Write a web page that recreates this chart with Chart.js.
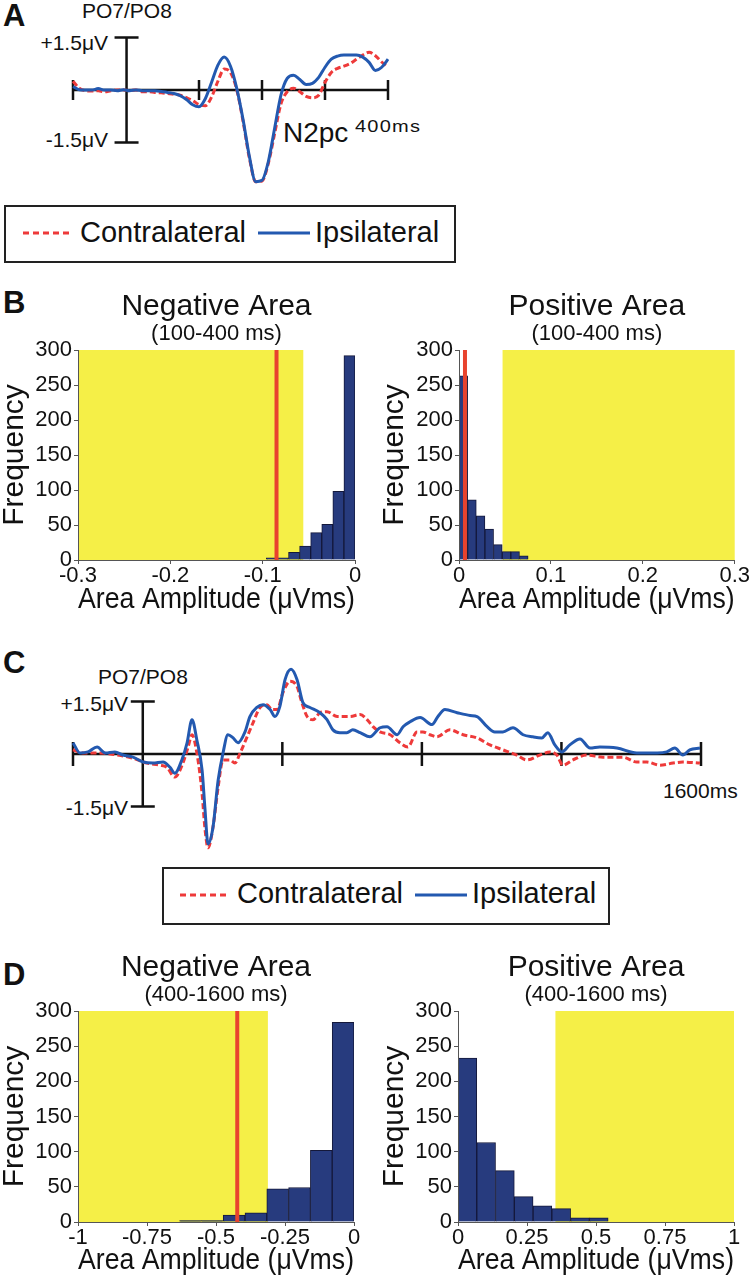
<!DOCTYPE html>
<html>
<head>
<meta charset="utf-8">
<script src="https://cdn.jsdelivr.net/npm/chart.js@4.4.0/dist/chart.umd.min.js"></script>
<style>
html, body { margin: 0; padding: 0; background: #fff; }
body { width: 751px; height: 1280px; position: relative; overflow: hidden;
       font-family: "Liberation Sans", Arial, sans-serif; color: #111; }
canvas, svg { position: absolute; }
.t { position: absolute; line-height: 1; white-space: nowrap; }
.letter { font-weight: bold; font-size: 31px; }
.lbl { font-size: 21px; }
.leg { font-size: 29px; }
.box { position: absolute; border: 2px solid #222; box-sizing: border-box; }
</style>
</head>
<body>

<div class="t letter" style="left:3px;top:0px">A</div>
<div class="t letter" style="left:3px;top:287px">B</div>
<div class="t letter" style="left:3px;top:647px">C</div>
<div class="t letter" style="left:3px;top:959px">D</div>

<!-- panel A annotations -->
<div class="t lbl" style="left:82px;top:0px">PO7/PO8</div>
<div class="t lbl" style="left:8px;top:32px;width:100px;text-align:right">+1.5μV</div>
<div class="t lbl" style="left:8px;top:129px;width:100px;text-align:right">-1.5μV</div>
<div class="t" style="left:283px;top:119px;font-size:28px">N2pc</div>
<div class="t" style="left:355px;top:119px;font-size:16px;letter-spacing:1px;transform:scaleX(1.25);transform-origin:left">400ms</div>

<!-- panel C annotations -->
<div class="t lbl" style="left:98px;top:666px">PO7/PO8</div>
<div class="t lbl" style="left:28px;top:693px;width:100px;text-align:right">+1.5μV</div>
<div class="t lbl" style="left:28px;top:797px;width:100px;text-align:right">-1.5μV</div>
<div class="t lbl" style="left:663px;top:780px">1600ms</div>

<canvas id="erpA" width="430" height="200" style="left:0;top:0"></canvas>
<canvas id="erpC" width="751" height="245" style="left:0;top:620px"></canvas>

<canvas id="bNeg" width="380" height="330" style="left:0;top:290px"></canvas>
<canvas id="bPos" width="371" height="330" style="left:380px;top:290px"></canvas>
<canvas id="dNeg" width="380" height="331" style="left:0;top:951px"></canvas>
<canvas id="dPos" width="371" height="331" style="left:380px;top:951px"></canvas>

<!-- legends -->
<div class="box" style="left:4px;top:205px;width:452px;height:58px"></div>
<svg style="left:23px;top:230px" width="50" height="6"><line x1="0" y1="3" x2="50" y2="3" stroke="#ee3a3a" stroke-width="3" stroke-dasharray="6 4"/></svg>
<div class="t leg" style="left:80px;top:218px">Contralateral</div>
<svg style="left:258px;top:230px" width="52" height="6"><line x1="0" y1="3" x2="52" y2="3" stroke="#2359b0" stroke-width="3"/></svg>
<div class="t leg" style="left:315px;top:218px">Ipsilateral</div>

<div class="box" style="left:162px;top:867px;width:448px;height:58px"></div>
<svg style="left:180px;top:892px" width="50" height="6"><line x1="0" y1="3" x2="50" y2="3" stroke="#ee3a3a" stroke-width="3" stroke-dasharray="6 4"/></svg>
<div class="t leg" style="left:237px;top:879px">Contralateral</div>
<svg style="left:415px;top:892px" width="52" height="6"><line x1="0" y1="3" x2="52" y2="3" stroke="#2359b0" stroke-width="3"/></svg>
<div class="t leg" style="left:472px;top:879px">Ipsilateral</div>

<script>
// ---- panel A: grand average ERP, -100..400 ms (uV)
const aTimes = [-100, -90, -80, -70, -60, -50, -40, -30, -20, -10, 0, 10, 20, 30, 40, 50, 60, 70, 80, 90,
  100, 110, 120, 130, 140, 150, 160, 170, 180, 190, 200, 210, 220, 230, 240, 250, 260, 270, 280, 290,
  300, 310, 320, 330, 340, 350, 360, 370, 380, 390, 400];
const aContra = [0.25, 0.05, -0.02, -0.03, -0.02, -0.05, -0.02, 0.00, 0.00, -0.02, 0.00,
  -0.05, -0.05, -0.07, -0.08, -0.10, -0.12, -0.15, -0.22, -0.30, -0.42,
  -0.45, -0.20, 0.25, 0.60, 0.50, 0.00, -0.90, -1.95, -2.62, -2.60,
  -2.10, -1.25, -0.40, -0.05, 0.05, -0.05, -0.18, -0.22, -0.15, 0.22,
  0.50, 0.62, 0.68, 0.76, 0.88, 1.00, 1.08, 0.98, 0.80, 0.65];
const aIpsi = [0.10, 0.01, 0.00, 0.00, 0.04, 0.00, 0.00, -0.02, 0.01, -0.02, 0.00,
  -0.02, -0.02, -0.02, -0.04, -0.07, -0.10, -0.16, -0.27, -0.42, -0.48,
  -0.25, 0.22, 0.71, 0.94, 0.68, 0.04, -0.85, -1.90, -2.62, -2.58,
  -2.05, -1.10, -0.15, 0.33, 0.42, 0.30, 0.16, 0.19, 0.36, 0.65,
  0.88, 0.97, 1.00, 1.00, 1.00, 0.94, 0.79, 0.56, 0.65, 0.88];
const aTicks = [-100, 100, 200, 300, 400];

// ---- panel C: grand average ERP, -200..1600 ms (uV)
const cIpsiTimes = [-200, -180, -157, -131, -108, -80, -57, -28, 1, 29, 58, 78, 92, 112, 127, 141, 155, 170, 178, 187,
  201, 216, 230, 244, 259, 273, 293, 307, 327, 345, 365, 379, 393, 408, 425, 442, 459, 479, 508, 528,
  545, 565, 585, 602, 623, 651, 680, 700, 729, 746, 766, 795, 829, 846, 866, 901, 938, 958, 987, 1009,
  1032, 1061, 1090, 1118, 1144, 1161, 1181, 1201, 1224, 1253, 1282, 1310, 1359, 1416, 1474, 1502, 1525, 1548, 1568, 1597];
const cIpsi = [0.32, 0.03, 0.06, 0.20, 0.03, 0.06, -0.03, -0.09, -0.23, -0.26, -0.23, -0.38, -0.55, -0.17, 0.32, 0.98, 0.40, -0.46, -1.53, -2.57,
  -2.11, -0.75, 0.03, 0.55, 0.46, 0.32, 0.63, 1.07, 1.33, 1.41, 1.27, 1.07, 1.36, 2.13, 2.42, 2.13, 1.47, 1.33, 1.18, 0.98,
  0.69, 0.61, 0.61, 0.69, 0.61, 0.49, 0.75, 0.78, 0.55, 0.78, 0.92, 1.04, 0.84, 1.07, 1.27, 1.18, 1.10, 1.07, 0.78, 0.63,
  0.63, 0.75, 0.55, 0.49, 0.46, 0.61, 0.26, 0.06, 0.26, 0.43, 0.17, 0.20, 0.17, 0.03, 0.03, 0.06, 0.17, -0.03, 0.12, 0.17];
const cContraTimes = [-200, -171, -123, -74, -28, 12, 49, 69, 92, 115, 130, 141, 155, 170, 178, 187, 201, 216, 230, 250,
  264, 279, 299, 316, 336, 356, 370, 385, 402, 422, 442, 456, 471, 488, 508, 528, 557, 594, 623, 643,
  660, 680, 709, 737, 760, 786, 803, 823, 843, 880, 918, 958, 995, 1032, 1072, 1101, 1138, 1167, 1187, 1204,
  1233, 1273, 1319, 1376, 1416, 1445, 1482, 1520, 1548, 1597];
const cContra = [0.12, 0.03, 0.03, -0.03, -0.12, -0.26, -0.32, -0.38, -0.66, -0.26, 0.20, 0.55, 0.03, -1.13, -2.11, -2.68, -2.11, -0.95, -0.17, -0.17,
  -0.26, 0.03, 0.49, 0.89, 1.33, 1.41, 1.27, 1.27, 1.76, 2.08, 1.93, 1.47, 1.07, 0.98, 1.18, 1.21, 1.07, 1.07, 1.13, 0.98,
  0.78, 0.63, 0.55, 0.32, 0.20, 0.63, 0.63, 0.55, 0.49, 0.69, 0.55, 0.46, 0.26, 0.12, -0.03, -0.17, -0.03, 0.06, -0.03, -0.32,
  -0.17, -0.03, -0.09, -0.09, -0.23, -0.23, -0.32, -0.26, -0.23, -0.26];
const cTicks = [-200, 400, 800, 1200, 1600];

// ---- panel B histograms (bin centres, counts), 100-400 ms
const bNegBins = [-0.090, -0.078, -0.066, -0.054, -0.042, -0.030, -0.018, -0.006];
const bNegCounts = [3, 3, 11, 20, 39, 51, 98, 292];
const bNegCritical = [-0.3, -0.056];
const bNegObserved = -0.085;

const bPosBins = [0.0047, 0.0141, 0.0235, 0.0329, 0.0423, 0.0517, 0.0611, 0.0705];
const bPosCounts = [263, 86, 63, 44, 22, 12, 12, 6];
const bPosCritical = [0.0474, 0.3];
const bPosObserved = 0.0065;

// ---- panel D histograms, 400-1600 ms
const dNegBins = [-0.5925, -0.5135, -0.4345, -0.3555, -0.2765, -0.1975, -0.1185, -0.0395];
const dNegCounts = [2, 2, 10, 13, 47, 49, 102, 284];
const dNegCritical = [-1, -0.312];
const dNegObserved = -0.423;

const dPosBins = [0.034, 0.102, 0.170, 0.238, 0.306, 0.374, 0.442, 0.510];
const dPosCounts = [233, 113, 73, 36, 23, 19, 6, 6];
const dPosCritical = [0.353, 1];
const dPosObserved = null;

const RED = '#ee3a3a';
const BLUE = '#2359b0';

Chart.defaults.font.family = '"Liberation Sans", Arial, sans-serif';
Chart.defaults.color = '#111';

function pts(xs, ys) {
  return xs.map((x, i) => ({ x: x, y: ys[i] }));
}

// baseline with time ticks + vertical calibration bar
const erpAxes = {
  id: 'erpAxes',
  beforeDatasetsDraw(chart, args, o) {
    const { ctx, scales: { x, y } } = chart;
    const y0 = y.getPixelForValue(0);
    ctx.save();
    ctx.strokeStyle = '#111';
    ctx.lineWidth = 2.5;
    ctx.beginPath();
    ctx.moveTo(x.getPixelForValue(x.min), y0);
    ctx.lineTo(x.getPixelForValue(x.max), y0);
    o.ticks.forEach(t => {
      const px = x.getPixelForValue(t);
      ctx.moveTo(px, y0 - o.tickLen);
      ctx.lineTo(px, y0 + o.tickLen);
    });
    const bx = x.getPixelForValue(o.barAt);
    const yt = y.getPixelForValue(o.barHalf);
    const yb = y.getPixelForValue(-o.barHalf);
    ctx.moveTo(bx, yt); ctx.lineTo(bx, yb);
    ctx.moveTo(bx - o.capLen, yt); ctx.lineTo(bx + o.capLen, yt);
    ctx.moveTo(bx - o.capLen, yb); ctx.lineTo(bx + o.capLen, yb);
    ctx.stroke();
    ctx.restore();
  }
};

function erpChart(id, ipsi, contra, xr, yr, pad, axesOpts) {
  new Chart(document.getElementById(id), {
    type: 'line',
    data: {
      datasets: [
        { label: 'Ipsilateral', data: ipsi, borderColor: BLUE, borderWidth: 3,
          pointRadius: 0, cubicInterpolationMode: 'monotone', clip: false },
        { label: 'Contralateral', data: contra, borderColor: RED, borderWidth: 3,
          borderDash: [6, 3], pointRadius: 0, cubicInterpolationMode: 'monotone', clip: false }
      ]
    },
    options: {
      responsive: false,
      animation: false,
      devicePixelRatio: 1,
      layout: { padding: pad },
      plugins: { legend: { display: false }, tooltip: { enabled: false }, erpAxes: axesOpts },
      scales: {
        x: { type: 'linear', min: xr[0], max: xr[1], display: false },
        y: { min: yr[0], max: yr[1], display: false }
      }
    },
    plugins: [erpAxes]
  });
}

erpChart('erpA', pts(aTimes, aIpsi), pts(aTimes, aContra), [-100, 400], [-3.0, 2.0],
  { left: 73, right: 42, top: 20, bottom: 5 },
  { ticks: aTicks, barAt: -15, barHalf: 1.5, tickLen: 10, capLen: 12 });

erpChart('erpC', pts(cIpsiTimes, cIpsi), pts(cContraTimes, cContra), [-200, 1600], [-3.0, 2.8],
  { left: 73, right: 50, top: 36, bottom: 6 },
  { ticks: cTicks, barAt: 0, barHalf: 1.5, tickLen: 12, capLen: 12 });

// yellow critical region + red observed value
const region = {
  id: 'region',
  beforeDatasetsDraw(chart, args, o) {
    const { ctx, scales: { x, y } } = chart;
    const l = x.getPixelForValue(o.range[0]);
    const r = x.getPixelForValue(o.range[1]);
    const t = y.getPixelForValue(y.max);
    const b = y.getPixelForValue(0);
    ctx.save();
    ctx.fillStyle = '#f5ef47';
    ctx.fillRect(l, t, r - l, b - t);
    ctx.restore();
  },
  afterDatasetsDraw(chart, args, o) {
    if (o.observed === null || o.observed === undefined) return;
    const { ctx, scales: { x, y } } = chart;
    const px = x.getPixelForValue(o.observed);
    ctx.save();
    ctx.strokeStyle = '#e8432e';
    ctx.lineWidth = 4;
    ctx.beginPath();
    ctx.moveTo(px, y.getPixelForValue(y.max));
    ctx.lineTo(px, y.getPixelForValue(0));
    ctx.stroke();
    ctx.restore();
  }
};

function histChart(id, title, sub, bins, counts, xr, step, crit, observed, yw, rightPad, titlePad) {
  new Chart(document.getElementById(id), {
    type: 'bar',
    data: {
      datasets: [{
        data: pts(bins, counts),
        backgroundColor: '#273b7e',
        borderColor: '#14183a',
        borderWidth: 1,
        barPercentage: 1,
        categoryPercentage: 1
      }]
    },
    options: {
      responsive: false,
      animation: false,
      devicePixelRatio: 1,
      layout: { padding: { left: 0, right: rightPad, top: 0, bottom: 0 } },
      plugins: {
        legend: { display: false },
        tooltip: { enabled: false },
        title: { display: true, text: title, fullSize: false, color: '#111',
                 font: { size: 30, weight: 'normal', lineHeight: 1 }, padding: { top: 2, bottom: 0 } },
        subtitle: { display: true, text: sub, fullSize: false, color: '#111',
                    font: { size: 22, lineHeight: 1 }, padding: { top: 1, bottom: 5 } },
        region: { range: crit, observed: observed }
      },
      scales: {
        x: {
          type: 'linear', min: xr[0], max: xr[1], offset: false,
          afterFit: s => { s.height = 60; },
          ticks: { stepSize: step, font: { size: 22, lineHeight: 1 }, padding: 1, maxRotation: 0, color: '#111',
                   callback: v => String(+v.toFixed(2)) },
          grid: { display: true, offset: false, drawOnChartArea: false, drawTicks: true, tickLength: 4, color: '#555' },
          border: { display: true, color: '#555', width: 1, z: 1 },
          title: { display: true, text: 'Area Amplitude (μVms)', color: '#111',
                   font: { size: 30, lineHeight: 1 }, padding: { top: 0, bottom: titlePad } }
        },
        y: {
          min: 0, max: 300,
          afterFit: s => { s.width = yw; },
          ticks: { stepSize: 50, font: { size: 22 }, padding: 2, color: '#111' },
          grid: { display: true, drawOnChartArea: false, drawTicks: true, tickLength: 4, color: '#555' },
          border: { display: true, color: '#555', width: 1, z: 1 },
          title: { display: true, text: 'Frequency', color: '#111',
                   font: { size: 30, lineHeight: 1 }, padding: { top: 0, bottom: 0 } }
        }
      }
    },
    plugins: [region]
  });
}

histChart('bNeg', 'Negative Area', '(100-400 ms)', bNegBins, bNegCounts, [-0.3, 0], 0.1,
  bNegCritical, bNegObserved, 78, 25, 5);
histChart('bPos', 'Positive Area', '(100-400 ms)', bPosBins, bPosCounts, [0, 0.3], 0.1,
  bPosCritical, bPosObserved, 79, 16, 5);
histChart('dNeg', 'Negative Area', '(400-1600 ms)', dNegBins, dNegCounts, [-1, 0], 0.25,
  dNegCritical, dNegObserved, 78, 26, 6);
histChart('dPos', 'Positive Area', '(400-1600 ms)', dPosBins, dPosCounts, [0, 1], 0.25,
  dPosCritical, dPosObserved, 78, 17, 6);
</script>
</body>
</html>
